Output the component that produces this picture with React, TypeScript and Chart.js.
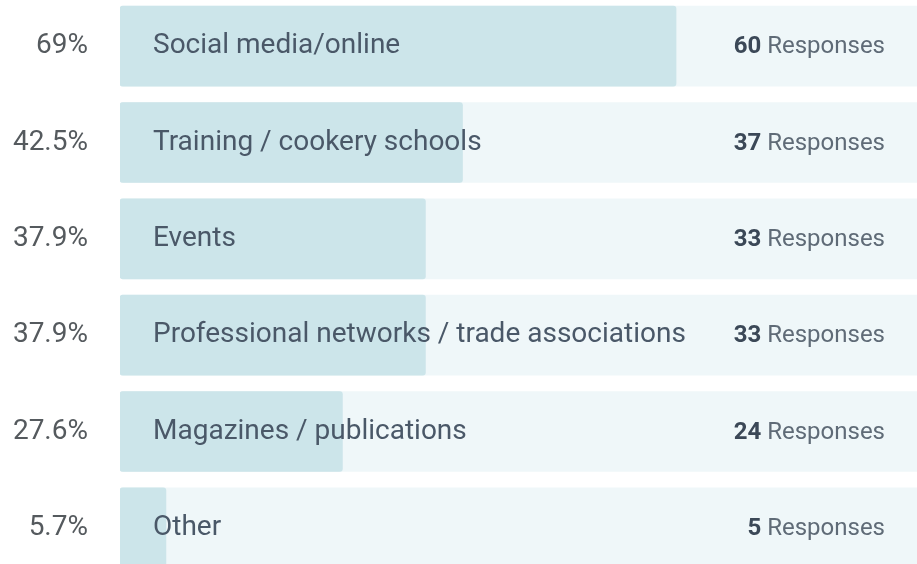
import React, { useEffect, useRef } from "react";
import { Chart, registerables } from "chart.js";

Chart.register(...registerables);

const categories = [
  "Social media/online",
  "Training / cookery schools",
  "Events",
  "Professional networks / trade associations",
  "Magazines / publications",
  "Other",
];
const percents = [69, 42.5, 37.9, 37.9, 27.6, 5.7];
const percentLabels = ["69%", "42.5%", "37.9%", "37.9%", "27.6%", "5.7%"];
const responses = [60, 37, 33, 33, 24, 5];
const track = [100, 100, 100, 100, 100, 100];

const FONT = "Roboto, 'Liberation Sans', Arial, sans-serif";

const labelPlugin = {
  id: "labels",
  afterDatasetsDraw(chart: any) {
    const ctx = chart.ctx;
    const y = chart.scales.y;
    ctx.save();
    ctx.textBaseline = "middle";
    categories.forEach((cat, i) => {
      const cy = y.getPixelForValue(i);
      ctx.font = `28px ${FONT}`;
      ctx.fillStyle = "#555a5e";
      ctx.textAlign = "right";
      ctx.fillText(percentLabels[i], 88, cy);
      ctx.textAlign = "left";
      ctx.fillStyle = "#4a5868";
      ctx.fillText(cat, 153, cy);
      ctx.textAlign = "right";
      ctx.font = `24px ${FONT}`;
      ctx.fillStyle = "#5f6b77";
      const resp = "Responses";
      const rw = ctx.measureText(resp).width;
      ctx.fillText(resp, 885, cy + 1);
      ctx.font = `bold 24px ${FONT}`;
      ctx.fillStyle = "#3b4857";
      ctx.fillText(String(responses[i]), 885 - rw - 6, cy + 1);
    });
    ctx.restore();
  },
};

export default function App() {
  const ref = useRef<HTMLCanvasElement | null>(null);
  useEffect(() => {
    if (!ref.current) return;
    const chart = new Chart(ref.current, {
      type: "bar",
      data: {
        labels: categories,
        datasets: [
          {
            data: percents,
            backgroundColor: "#cce5ea",
            borderRadius: 3,
            borderSkipped: false,
            grouped: false,
            order: 0,
            barThickness: 80,
          } as any,
          {
            data: track,
            backgroundColor: "#eff7f9",
            borderRadius: 3,
            borderSkipped: false,
            grouped: false,
            order: 1,
            barThickness: 80,
          } as any,
        ],
      },
      options: {
        indexAxis: "y",
        animation: false,
        responsive: false,
        maintainAspectRatio: false,
        layout: { padding: { left: 120, right: 0, top: 0, bottom: 0 } },
        plugins: { legend: { display: false }, tooltip: { enabled: false } },
        scales: {
          x: { display: false, min: 0, max: 98.9 },
          y: { display: false },
        },
      },
      plugins: [labelPlugin],
    });
    return () => chart.destroy();
  }, []);
  return (
    <div
      style={{
        position: "fixed",
        left: 0,
        top: 0,
        width: 917,
        height: 564,
        overflow: "hidden",
        background: "#ffffff",
      }}
    >
      <canvas
        ref={ref}
        width={917}
        height={578}
        style={{ position: "absolute", left: 0, top: -2, width: 917, height: 578 }}
      />
    </div>
  );
}
